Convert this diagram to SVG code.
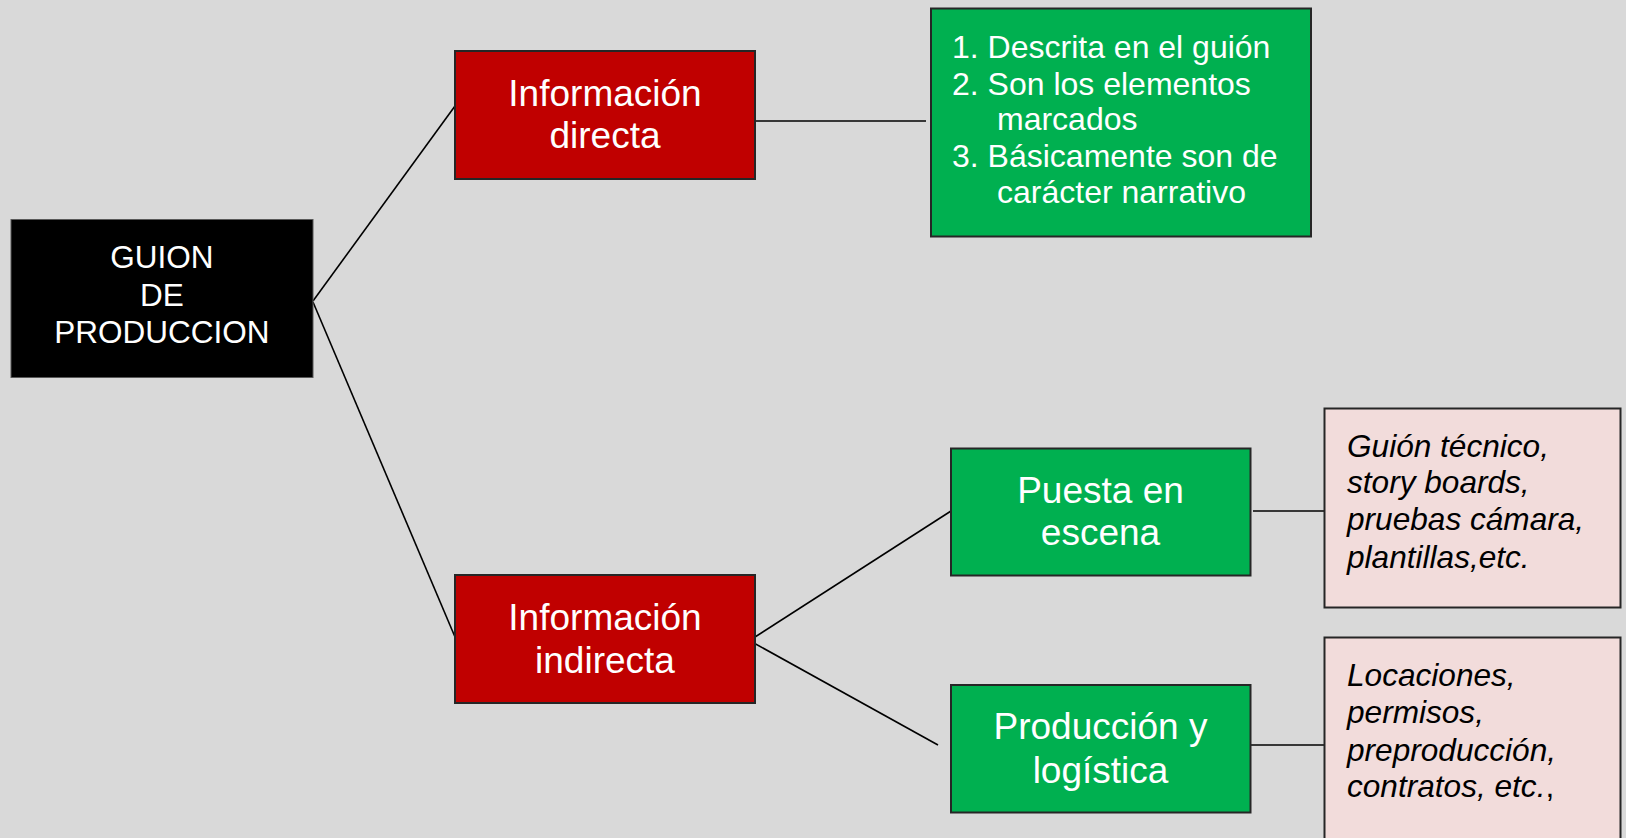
<svg xmlns="http://www.w3.org/2000/svg" width="1626" height="838" viewBox="0 0 1626 838">
<style>
.bg{fill:#D9D9D9}
.box{stroke:#262626;stroke-width:2}
.red{fill:#C00000}
.green{fill:#00B050}
.pink{fill:#F2DCDB}
.blk{fill:#000000;stroke:#595959;stroke-width:1}
.t{font-family:"Liberation Sans",Arial,sans-serif;fill:#FFFFFF}
.big{font-size:37px;text-anchor:middle}
.mid{font-size:31.5px;text-anchor:middle}
.list{font-size:32px}
.it{font-family:"Liberation Sans",Arial,sans-serif;font-style:italic;font-size:31.6px;fill:#000000}
.c{stroke:#000000;stroke-width:1.6;fill:none}
</style>
<rect class="bg" x="0" y="0" width="1626" height="838"/>
<g id="connectors">
<line class="c" x1="313" y1="301" x2="455" y2="106"/>
<line class="c" x1="313" y1="302" x2="455" y2="637"/>
<line class="c" x1="755" y1="121" x2="926" y2="121"/>
<line class="c" x1="755" y1="637" x2="951" y2="511"/>
<line class="c" x1="743" y1="637" x2="938" y2="745"/>
<line class="c" x1="1253" y1="511" x2="1324" y2="511"/>
<line class="c" x1="1250" y1="745" x2="1324" y2="745"/>
</g>
<g id="guion">
<rect class="blk" x="11" y="219.5" width="302" height="158"/>
<text class="t mid" x="162" y="268">GUION</text>
<text class="t mid" x="162" y="306">DE</text>
<text class="t mid" x="162" y="343">PRODUCCION</text>
</g>
<g id="info-directa">
<rect class="box red" x="455" y="51" width="300" height="128"/>
<text class="t big" x="605" y="106">Información</text>
<text class="t big" x="605" y="148">directa</text>
</g>
<g id="directa-detalle">
<rect class="box green" x="931" y="8.5" width="380" height="228"/>
<text class="t list" x="952" y="58">1. Descrita en el guión</text>
<text class="t list" x="952" y="95">2. Son los elementos</text>
<text class="t list" x="997" y="130">marcados</text>
<text class="t list" x="952" y="167">3. Básicamente son de</text>
<text class="t list" x="997" y="203">carácter narrativo</text>
</g>
<g id="info-indirecta">
<rect class="box red" x="455" y="575" width="300" height="128"/>
<text class="t big" x="605" y="630">Información</text>
<text class="t big" x="605" y="673">indirecta</text>
</g>
<g id="puesta">
<rect class="box green" x="951" y="448.5" width="299.5" height="127"/>
<text class="t big" x="1100.5" y="503">Puesta en</text>
<text class="t big" x="1100.5" y="545">escena</text>
</g>
<g id="produccion">
<rect class="box green" x="951" y="685" width="299.5" height="127.5"/>
<text class="t big" x="1100.5" y="739">Producción y</text>
<text class="t big" x="1100.5" y="783">logística</text>
</g>
<g id="puesta-detalle">
<rect class="box pink" x="1324.5" y="408.5" width="296" height="199"/>
<text class="it" x="1347" y="457">Guión técnico,</text>
<text class="it" x="1347" y="493">story boards,</text>
<text class="it" x="1347" y="530">pruebas cámara,</text>
<text class="it" x="1347" y="568">plantillas,etc.</text>
</g>
<g id="produccion-detalle">
<rect class="box pink" x="1324.5" y="637.5" width="296" height="220"/>
<text class="it" x="1347" y="686">Locaciones,</text>
<text class="it" x="1347" y="723">permisos,</text>
<text class="it" x="1347" y="761">preproducción,</text>
<text class="it" x="1347" y="797">contratos, etc.<tspan font-style="normal">,</tspan></text>
</g>
</svg>
